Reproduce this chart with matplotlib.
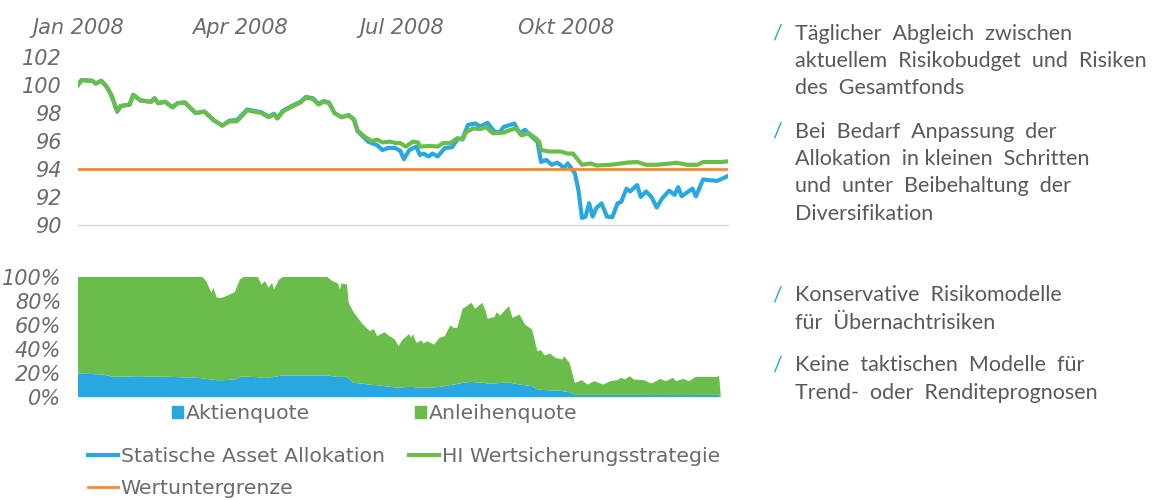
import numpy as np
import pandas as pd
import matplotlib
matplotlib.use("Agg")
import matplotlib.pyplot as plt
from matplotlib.patches import Patch
from matplotlib.lines import Line2D

# Wertentwicklung 2008 (Index, Start = 100), x = Tage seit 01.01.2008
hi_days = [0, 2, 8, 10, 13, 16, 19, 22, 24, 29, 31, 35, 41, 43, 45, 49, 53, 56, 60, 66,
           71, 76, 81, 85, 89, 90, 95, 99, 103, 107, 110, 112, 115, 120, 125, 128, 132, 135,
           138, 141, 144, 148, 152, 155, 157, 161, 165, 168, 171, 175, 179, 181, 184, 188,
           191, 192, 198, 202, 205, 209, 213, 216, 218, 222, 226, 229, 233, 239, 243, 246,
           249, 253, 257, 259, 260, 265, 271, 275, 278, 283, 288, 291, 299, 308, 314, 319,
           325, 333, 336, 342, 348, 351, 361, 365]
hi_values = [100.0, 100.35, 100.3, 100.1, 100.3, 99.9, 99.2, 98.1, 98.5, 98.6, 99.3, 98.9,
             98.8, 99.05, 98.7, 98.8, 98.4, 98.7, 98.75, 98.0, 98.1, 97.5, 97.1, 97.4, 97.4,
             97.5, 98.2, 98.1, 98.0, 97.7, 97.9, 97.6, 98.1, 98.45, 98.75, 99.1, 99.0, 98.6,
             98.8, 98.7, 98.0, 97.7, 97.85, 97.55, 96.75, 96.3, 96.0, 96.1, 95.9, 95.95,
             95.85, 95.85, 95.6, 95.95, 95.9, 95.6, 95.65, 95.6, 95.85, 95.85, 96.2, 96.1,
             96.65, 96.9, 96.85, 97.0, 96.55, 96.6, 96.8, 96.9, 96.4, 96.55, 96.2, 95.95,
             95.35, 95.25, 95.25, 95.1, 95.1, 94.3, 94.4, 94.25, 94.3, 94.45, 94.5, 94.3,
             94.3, 94.4, 94.45, 94.3, 94.3, 94.5, 94.5, 94.55]

static_days = [0, 2, 8, 10, 13, 16, 19, 22, 24, 29, 31, 35, 41, 43, 45, 49, 53, 56, 60, 66,
               71, 76, 81, 85, 89, 90, 95, 99, 103, 107, 110, 112, 115, 120, 125, 128, 132,
               135, 138, 141, 144, 148, 152, 155, 157, 161, 163, 168, 171, 174, 178, 181, 183,
               186, 190, 192, 194, 197, 199, 202, 206, 210, 213, 216, 219, 223, 226, 230, 234,
               237, 239, 245, 248, 251, 254, 258, 260, 263, 266, 269, 271, 273, 275, 279, 281,
               283, 285, 287, 289, 291, 294, 297, 300, 303, 305, 308, 310, 314, 316, 319, 322,
               325, 328, 332, 335, 337, 339, 345, 347, 351, 359, 365]
static_values = [100.0, 100.35, 100.3, 100.1, 100.3, 99.9, 99.2, 98.1, 98.5, 98.6, 99.3, 98.9,
                 98.8, 99.05, 98.7, 98.8, 98.4, 98.7, 98.75, 98.0, 98.1, 97.5, 97.1, 97.45,
                 97.5, 97.6, 98.25, 98.15, 98.05, 97.75, 97.95, 97.65, 98.15, 98.5, 98.8,
                 99.15, 99.05, 98.65, 98.85, 98.75, 98.0, 97.7, 97.85, 97.5, 96.7, 96.2, 95.95,
                 95.7, 95.35, 95.5, 95.5, 95.3, 94.7, 95.35, 95.6, 95.0, 95.1, 94.9, 95.1, 94.9,
                 95.5, 95.55, 96.1, 96.2, 97.15, 97.25, 97.05, 97.3, 96.65, 96.65, 97.0, 97.25,
                 96.55, 96.8, 96.4, 95.95, 94.5, 94.65, 94.3, 94.45, 94.3, 94.05, 94.4, 93.7,
                 92.5, 90.5, 90.6, 91.55, 90.6, 91.2, 91.55, 90.6, 90.55, 91.55, 91.65, 92.6,
                 92.4, 92.85, 92.0, 92.4, 92.0, 91.25, 91.9, 92.45, 92.15, 92.7, 92.05, 92.6,
                 92.05, 93.25, 93.15, 93.5]

floor_value = 94

# Allokation in % (Aktien + Anleihen = gesamt)
alloc_days = [0, 14, 20, 33, 52, 67, 70, 72, 75, 76, 78, 81, 84, 88, 91, 93, 101, 103, 105,
              107, 109, 110, 113, 115, 140, 143, 146, 147, 148, 151, 152, 155, 160, 164, 166,
              168, 172, 175, 178, 180, 182, 186, 187, 188, 190, 193, 194, 196, 200, 203, 206,
              209, 211, 213, 216, 221, 223, 227, 229, 230, 234, 235, 237, 242, 244, 248, 251,
              255, 258, 260, 262, 265, 268, 272, 273, 276, 279, 283, 286, 290, 295, 299, 303,
              305, 307, 310, 312, 318, 322, 327, 330, 334, 336, 340, 343, 347, 359, 360, 361]
aktienquote = [19.6, 18.75, 16.8, 17.3, 16.8, 16.0, 15.5, 15.0, 14.6, 14.5, 14.0, 14.0, 14.2,
               14.6, 16.8, 17.0, 16.5, 16.0, 16.0, 16.2, 16.5, 16.6, 17.5, 17.9, 17.9, 17.2,
               16.8, 16.8, 16.8, 16.8, 15.0, 11.8, 11.0, 10.4, 10.0, 9.8, 9.0, 8.5, 8.0, 7.6,
               8.0, 8.5, 8.3, 8.3, 8.0, 7.8, 7.6, 7.8, 8.0, 8.5, 9.0, 10.0, 10.4, 10.8, 11.8,
               12.6, 12.3, 12.0, 11.5, 11.25, 11.3, 11.5, 11.6, 12.3, 11.5, 10.4, 9.8, 9.0,
               6.25, 6.0, 5.8, 5.6, 5.4, 5.0, 4.6, 4.0, 1.8, 1.8, 1.8, 1.8, 1.8, 1.8, 1.8, 1.8,
               1.8, 2.0, 1.8, 1.8, 1.6, 1.8, 1.6, 1.8, 1.6, 1.7, 1.6, 1.8, 1.8, 1.8, 0.0]
gesamtquote = [100, 100, 100, 100, 100, 100, 100, 96.5, 86.8, 91.0, 82.7, 82.7, 84.6, 87.3,
               98.0, 100, 100, 93.8, 96.5, 91.0, 95.2, 89.6, 98.0, 100, 100, 96.5, 94.6, 89.6,
               94.6, 93.8, 78.5, 70.2, 60.4, 54.8, 56.8, 50.7, 54.0, 50.7, 47.9, 42.3, 47.3,
               52.6, 49.3, 52.6, 45.2, 47.1, 44.6, 46.5, 43.7, 49.3, 50.7, 59.6, 57.7, 57.7,
               73.5, 78.5, 73.5, 78.5, 71.5, 65.2, 66.8, 70.7, 67.9, 75.7, 66.0, 68.75, 60.4,
               56.25, 38.2, 39.0, 34.6, 36.25, 32.7, 31.25, 34.0, 28.5, 11.8, 14.0, 10.4, 13.2,
               10.4, 13.2, 14.0, 16.0, 14.6, 17.3, 14.6, 14.0, 11.25, 15.1, 13.2, 16.0, 13.2,
               15.1, 13.2, 16.8, 16.8, 17.9, 0.0]

tick_dates = ["2008-01-01", "2008-04-01", "2008-07-01", "2008-10-01"]
tick_labels = ["Jan 2008", "Apr 2008", "Jul 2008", "Okt 2008"]
value_ticks = [90, 92, 94, 96, 98, 100, 102]
pct_ticks = [0, 20, 40, 60, 80, 100]

bullets = [
    ["Täglicher  Abgleich  zwischen", "aktuellem  Risikobudget  und  Risiken", "des  Gesamtfonds"],
    ["Bei  Bedarf  Anpassung  der", "Allokation  in kleinen  Schritten",
     "und  unter  Beibehaltung  der", "Diversifikation"],
    ["Konservative  Risikomodelle", "für  Übernachtrisiken"],
    ["Keine  taktischen  Modelle  für", "Trend-  oder  Renditeprognosen"],
]
bullet_baselines = [[40, 67, 94], [138, 165, 192.5, 220], [301, 329], [371, 399]]

BLUE = "#29A8E0"
GREEN = "#6ABD4B"
ORANGE = "#F7883A"
GRAY = "#6b6b6b"
TEXT = "#595959"

start = pd.Timestamp("2008-01-01")
to_dates = lambda days: start + pd.to_timedelta(days, unit="D")

W, H = 1160, 500
fig = plt.figure(figsize=(W / 100, H / 100), dpi=100)

# Oberes Diagramm: Wertentwicklung
ax = fig.add_axes([78 / W, 1 - 225 / H, 650 / W, 168 / H])
ax.plot(to_dates(static_days), static_values, color=BLUE, lw=3, solid_joinstyle="round")
ax.plot(to_dates(hi_days), hi_values, color=GREEN, lw=3, solid_joinstyle="round")
ax.axhline(floor_value, color=ORANGE, lw=2)
ax.set_xlim(start, pd.Timestamp("2008-12-31"))
ax.set_ylim(90, 102)
ax.set_yticks(value_ticks)
ax.set_yticklabels([str(v) for v in value_ticks])
ax.set_xticks(pd.to_datetime(tick_dates))
ax.set_xticklabels(tick_labels)
ax.xaxis.tick_top()
ax.tick_params(axis="x", length=0, pad=14)
ax.tick_params(axis="y", length=0, pad=12)
for side in ["top", "left", "right"]:
    ax.spines[side].set_visible(False)
ax.spines["bottom"].set_color("#d9d9d9")
ax.spines["bottom"].set_linewidth(1)

# Unteres Diagramm: Allokation
ax2 = fig.add_axes([78 / W, 1 - 397 / H, 650 / W, 120 / H])
anleihenquote = np.array(gesamtquote) - np.array(aktienquote)
ax2.stackplot(to_dates(alloc_days), aktienquote, anleihenquote, colors=[BLUE, GREEN], lw=0)
ax2.set_xlim(start, pd.Timestamp("2008-12-31"))
ax2.set_ylim(0, 100)
ax2.set_yticks(pct_ticks)
ax2.set_yticklabels([f"{p}%" for p in pct_ticks])
ax2.set_xticks([])
ax2.tick_params(axis="y", length=0, pad=12)
for side in ["top", "left", "right", "bottom"]:
    ax2.spines[side].set_visible(False)

for a in (ax, ax2):
    for lab in a.get_xticklabels() + a.get_yticklabels():
        lab.set_fontsize(15)
        lab.set_style("italic")
        lab.set_color(GRAY)

# Legenden
leg_kw = dict(frameon=False, fontsize=14.7, labelcolor=GRAY, borderpad=0, borderaxespad=0)
fig.legend(handles=[Patch(color=BLUE, label="Aktienquote"), Patch(color=GREEN, label="Anleihenquote")],
           loc="upper left", bbox_to_anchor=(172 / W, 1 - 404 / H), ncol=2,
           handlelength=0.55, handleheight=0.55, handletextpad=0.15, columnspacing=5.1, **leg_kw)
# Spaltenweise Reihenfolge: links Statisch/Wertuntergrenze, rechts HI
fig.legend(handles=[Line2D([], [], color=BLUE, lw=3, label="Statische Asset Allokation"),
                    Line2D([], [], color=ORANGE, lw=2, label="Wertuntergrenze"),
                    Line2D([], [], color=GREEN, lw=3, label="HI Wertsicherungsstrategie")],
           loc="upper left", bbox_to_anchor=(88 / W, 1 - 447 / H), ncol=2,
           handlelength=1.45, handletextpad=0.15, columnspacing=1.2, labelspacing=0.65, **leg_kw)

# Textblock rechts
for lines, baselines in zip(bullets, bullet_baselines):
    fig.text(772 / W, 1 - baselines[0] / H, "/", color=BLUE, fontsize=15.5,
             family="Lato", va="baseline")
    for line, yb in zip(lines, baselines):
        fig.text(795 / W, 1 - yb / H, line, color=TEXT, fontsize=15.5,
                 family="Lato", va="baseline")

fig.savefig("out.png", dpi=100)
